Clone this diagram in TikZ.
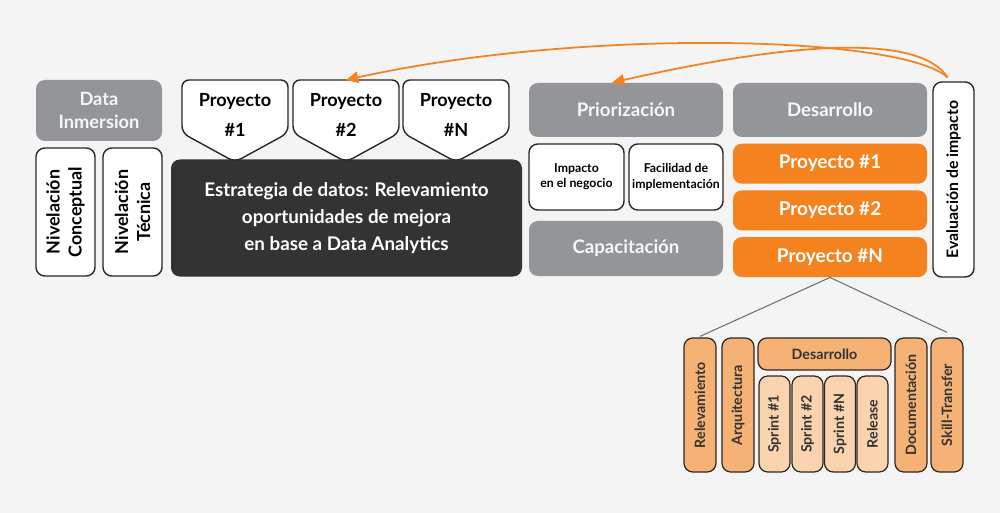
\documentclass[tikz,border=0pt]{standalone}
\usepackage{fontspec}
\setmainfont{Lato}
\usetikzlibrary{arrows.meta,positioning}
\definecolor{cFondo}{HTML}{F4F4F4}
\definecolor{cGris}{HTML}{939598}
\definecolor{cOscuro}{HTML}{333333}
\definecolor{cNaranja}{HTML}{F3821F}
\definecolor{cArena}{HTML}{F5B274}
\definecolor{cCrema}{HTML}{F9D4AF}
\definecolor{cBorde}{HTML}{2E2620}
\definecolor{cLinea}{HTML}{6E6E6E}
\newlength\pxu \setlength\pxu{0.02cm}
\tikzset{
  base/.style={rectangle, rounded corners=5pt, align=center, inner sep=0pt},
  tam/.style 2 args={minimum width=#1\pxu, minimum height=#2\pxu},
  gris/.style={base, fill=cGris, text=white!92!cGris, font=\bfseries\fontsize{10.6}{12.5}\selectfont},
  blanca/.style={base, draw=cBorde, line width=0.8pt, fill=white, text=black, font=\bfseries\fontsize{10.2}{12.5}\selectfont},
  naranja/.style={base, fill=cNaranja, text=white, font=\bfseries\fontsize{10.8}{12}\selectfont},
  arena/.style={base, draw=cBorde, line width=0.7pt, fill=cArena, text=cOscuro, font=\bfseries\fontsize{8.1}{10}\selectfont},
  crema/.style={arena, fill=cCrema},
  vert/.style={rotate=90},
  penta/.style={draw=cBorde, line width=0.8pt, fill=white, rounded corners=4pt},
  pentatxt/.style={align=center, inner sep=0pt, font=\bfseries\fontsize{10.3}{17}\selectfont},
  flecha/.style={-{Triangle[length=7pt,width=6.5pt]}, line width=1pt, draw=cNaranja, fill=none},
  rama/.style={draw=cLinea, line width=0.6pt},
}
% pentagon pointing down, named text node on top of it
\newcommand\proyecto[3]{%
  \draw[penta] (#2,133) -- (#2,80) -- (#2+106,80) -- (#2+106,133) -- (#2+53,162) -- cycle;
  \node[pentatxt] (#1) at (#2+53,115) {Proyecto\\#3};
  \coordinate (#1top) at (#2+53,80);
}
\begin{document}
\begin{tikzpicture}[x=0.02cm, y=-0.02cm]
  \fill[cFondo] (0,0) rectangle (1000,513);
  \useasboundingbox (0,0) rectangle (1000,513);
  % data inmersion
  \node[gris, tam={126}{61}, font=\bfseries\fontsize{10.4}{12.8}\selectfont] (dataInm) at (99,110.5) {Data\\Inmersion};
  \node[blanca, vert, tam={128}{59}] (nivConc) at (65.5,212) {Nivelación\\Conceptual};
  \node[blanca, vert, tam={128}{59}] (nivTec) at (132.5,212) {Nivelación\\Técnica};
  % estrategia + proyectos
  \node[base, fill=cOscuro, text=white, tam={351}{117}, font=\bfseries\fontsize{10.7}{15.6}\selectfont] (estrat) at (346.5,218)
    {Estrategia de datos: Relevamiento\\oportunidades de mejora\\en base a Data Analytics};
  \proyecto{p1}{182}{\#1}
  \proyecto{p2}{293}{\#2}
  \proyecto{pN}{403}{\#N}
  % priorizacion
  \node[gris, tam={194}{54}] (prior) at (626,110) {Priorización};
  \node[blanca, tam={95}{66}, font=\bfseries\fontsize{7}{8.6}\selectfont] (impNeg) at (576.5,177) {Impacto\\en el negocio};
  \node[blanca, tam={94}{66}, font=\bfseries\fontsize{7}{8.6}\selectfont] (facImp) at (676,177) {Facilidad de\\implementación};
  \node[gris, tam={194}{55}] (capac) at (626,248.5) {Capacitación};
  % desarrollo
  \node[gris, tam={194}{54}] (desa) at (830,110) {Desarrollo};
  \node[naranja, tam={194}{40}, below=6\pxu of desa] (proy1) {Proyecto \#1};
  \node[naranja, tam={194}{40}, below=6\pxu of proy1] (proy2) {Proyecto \#2};
  \node[naranja, tam={194}{40}, below=6\pxu of proy2] (proyN) {Proyecto \#N};
  \node[blanca, vert, tam={195}{41}, font=\bfseries\fontsize{9}{10}\selectfont] (evalImp) at (953.5,179.5) {Evaluación de impacto};
  % detalle de un proyecto
  \node[arena, vert, tam={134}{32}] (relev) at (700,405) {Relevamiento};
  \node[arena, vert, tam={134}{32}] (arqui) at (738,405) {Arquitectura};
  \node[arena, tam={133}{32}] (desaB) at (824.5,354) {Desarrollo};
  \node[crema, vert, tam={96}{31}] (spr1) at (774.5,424) {Sprint \#1};
  \node[crema, vert, tam={96}{31}] (spr2) at (807.5,424) {Sprint \#2};
  \node[crema, vert, tam={96}{31}] (sprN) at (840,424) {Sprint \#N};
  \node[crema, vert, tam={96}{31}] (relea) at (872.5,424) {Release};
  \node[arena, vert, tam={134}{32}] (docu) at (911,405) {Documentación};
  \node[arena, vert, tam={134}{32}] (skill) at (947,405) {Skill-Transfer};
  \draw[rama] (proyN.south) -- ([yshift=1\pxu]relev.east);
  \draw[rama] (proyN.south) -- ([yshift=5\pxu]skill.east);
  % retroalimentacion
  \draw[flecha] ([xshift=-6\pxu, yshift=4\pxu]evalImp.east) .. controls (900,35) and (580,28) .. (p2top);
  \draw[flecha] ([xshift=-6\pxu, yshift=4\pxu]evalImp.east) .. controls (920,35) and (800,40) .. ([xshift=-14\pxu]prior.north);
\end{tikzpicture}
\end{document}
